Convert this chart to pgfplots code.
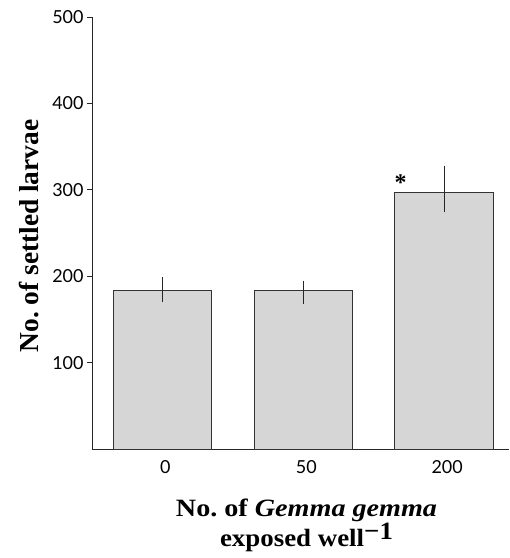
\documentclass[border=0pt]{standalone}
\usepackage{pgfplots}
\pgfplotsset{compat=1.18}
\usepackage{fontspec}
\setmainfont{Liberation Serif}
\newfontfamily\tickfont{Lato}
\frenchspacing
\begin{document}
\begin{tikzpicture}
\begin{axis}[
  scale only axis, width=417bp, height=432bp,
  xmin=-0.5, xmax=2.46, ymin=0, ymax=500,
  axis x line*=bottom, axis y line*=left,
  axis line style={line width=0.9bp, black!85},
  xtick={0,1,2}, xticklabels={0,50,200},
  ytick={100,200,300,400,500},
  major x tick style={draw=none},
  major y tick style={line width=0.8bp, black!85},
  tick align=outside, major tick length=5bp,
  ticklabel style={font=\tickfont\fontsize{18}{18}\selectfont},
  x tick label style={yshift=-3bp, xshift=3bp},
  /pgf/number format/assume math mode=true,
  xlabel={\scalebox{1.13}[1]{No. of \textit{Gemma gemma}}\\\scalebox{1.08}[1]{exposed well\raisebox{0.55ex}{−1}}},
  xlabel style={at={(axis description cs:0.5,0)}, anchor=center, yshift=-76bp, xshift=6bp,
    align=center, font=\bfseries\fontsize{25}{30}\selectfont},
  ylabel={No. of settled larvae},
  ylabel style={at={(axis description cs:0,0.5)}, anchor=center, yshift=63bp, xshift=-3bp,
    font=\bfseries\fontsize{27.5}{29}\selectfont},
  clip=false,
]
\addplot[ybar, bar width=0.7, fill=gray!32, draw=black!80, line width=0.8bp,
  error bars/.cd, y dir=both, y explicit, error mark=none,
  error bar style={line width=1.2bp, black!85}]
  coordinates {
    (0,183) += (0,16) -= (0,13)
    (1,183) += (0,12) -= (0,15)
    (2,297) += (0,31) -= (0,23)
  };
\node[font=\bfseries\fontsize{24}{24}\selectfont] at (axis cs:1.69,308) {*};
\end{axis}
\path (current axis.south west) ++(-92bp,-109bp) rectangle ++(509bp,558bp);
\end{tikzpicture}
\end{document}
